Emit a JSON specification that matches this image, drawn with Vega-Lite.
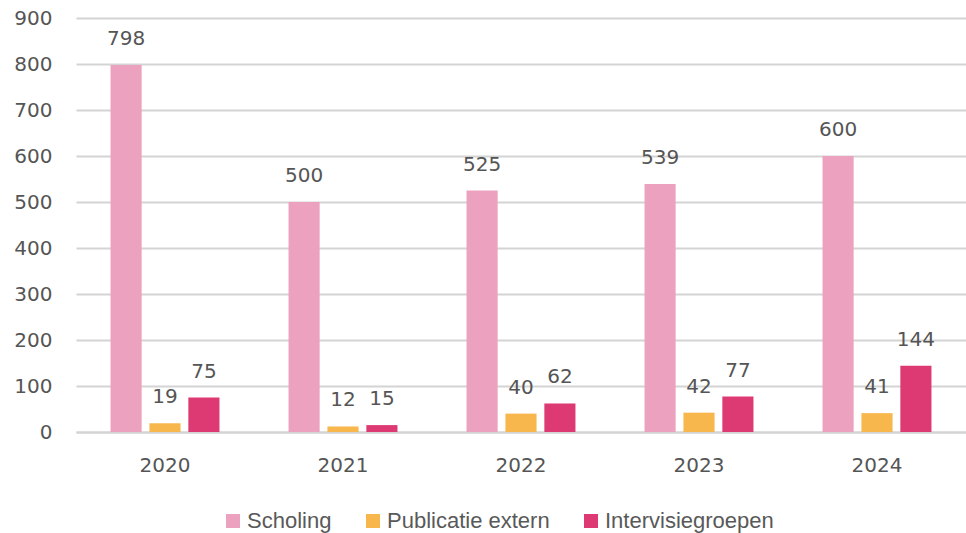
{
  "$schema": "https://vega.github.io/schema/vega-lite/v6.json",
  "width": 890,
  "height": 414,
  "autosize": "none",
  "padding": {"left": 76, "top": 18, "right": 0, "bottom": 101},
  "background": "white",
  "config": {
    "view": {"stroke": null},
    "font": "DejaVu Sans"
  },
  "data": {
    "values": [
      {"jaar": "2020", "reeks": "Scholing", "waarde": 798},
      {"jaar": "2020", "reeks": "Publicatie extern", "waarde": 19},
      {"jaar": "2020", "reeks": "Intervisiegroepen", "waarde": 75},
      {"jaar": "2021", "reeks": "Scholing", "waarde": 500},
      {"jaar": "2021", "reeks": "Publicatie extern", "waarde": 12},
      {"jaar": "2021", "reeks": "Intervisiegroepen", "waarde": 15},
      {"jaar": "2022", "reeks": "Scholing", "waarde": 525},
      {"jaar": "2022", "reeks": "Publicatie extern", "waarde": 40},
      {"jaar": "2022", "reeks": "Intervisiegroepen", "waarde": 62},
      {"jaar": "2023", "reeks": "Scholing", "waarde": 539},
      {"jaar": "2023", "reeks": "Publicatie extern", "waarde": 42},
      {"jaar": "2023", "reeks": "Intervisiegroepen", "waarde": 77},
      {"jaar": "2024", "reeks": "Scholing", "waarde": 600},
      {"jaar": "2024", "reeks": "Publicatie extern", "waarde": 41},
      {"jaar": "2024", "reeks": "Intervisiegroepen", "waarde": 144}
    ]
  },
  "encoding": {
    "x": {
      "field": "jaar",
      "type": "nominal",
      "title": null,
      "scale": {"paddingInner": 0.388, "paddingOuter": 0.194},
      "axis": {
        "labelAngle": 0,
        "labelFont": "DejaVu Sans",
        "labelFontSize": 20,
        "labelColor": "#555555",
        "labelPadding": 23,
        "ticks": false,
        "domainColor": "#d4d4d4",
        "domainWidth": 2
      }
    },
    "xOffset": {
      "field": "reeks",
      "type": "nominal",
      "sort": ["Scholing", "Publicatie extern", "Intervisiegroepen"],
      "scale": {"paddingInner": 0.2, "paddingOuter": 0}
    },
    "y": {
      "field": "waarde",
      "type": "quantitative",
      "title": null,
      "scale": {"domain": [0, 900], "nice": false},
      "axis": {
        "values": [0, 100, 200, 300, 400, 500, 600, 700, 800, 900],
        "labelFont": "DejaVu Sans",
        "labelFontSize": 20,
        "labelColor": "#555555",
        "labelPadding": 24,
        "ticks": false,
        "domain": false,
        "gridColor": "#d4d4d4",
        "gridWidth": 2
      }
    },
    "color": {
      "field": "reeks",
      "type": "nominal",
      "sort": ["Scholing", "Publicatie extern", "Intervisiegroepen"],
      "scale": {
        "domain": ["Scholing", "Publicatie extern", "Intervisiegroepen"],
        "range": ["#eca2bf", "#f7b74c", "#dd3a73"]
      },
      "legend": {
        "title": null,
        "orient": "none",
        "direction": "horizontal",
        "legendX": 146,
        "legendY": 492,
        "symbolType": "square",
        "symbolSize": 196,
        "symbolStrokeWidth": 0,
        "labelFont": "Liberation Sans",
        "labelFontSize": 22,
        "labelLimit": 400,
        "labelColor": "#595959",
        "labelOffset": 3,
        "columnPadding": 30
      }
    }
  },
  "layer": [
    {"mark": {"type": "bar"}},
    {
      "mark": {
        "type": "text",
        "baseline": "alphabetic",
        "dy": -20,
        "font": "DejaVu Sans",
        "fontSize": 20,
        "fill": "#555555"
      },
      "encoding": {
        "text": {"field": "waarde", "type": "quantitative"},
        "color": {"value": "#555555"}
      }
    }
  ]
}
